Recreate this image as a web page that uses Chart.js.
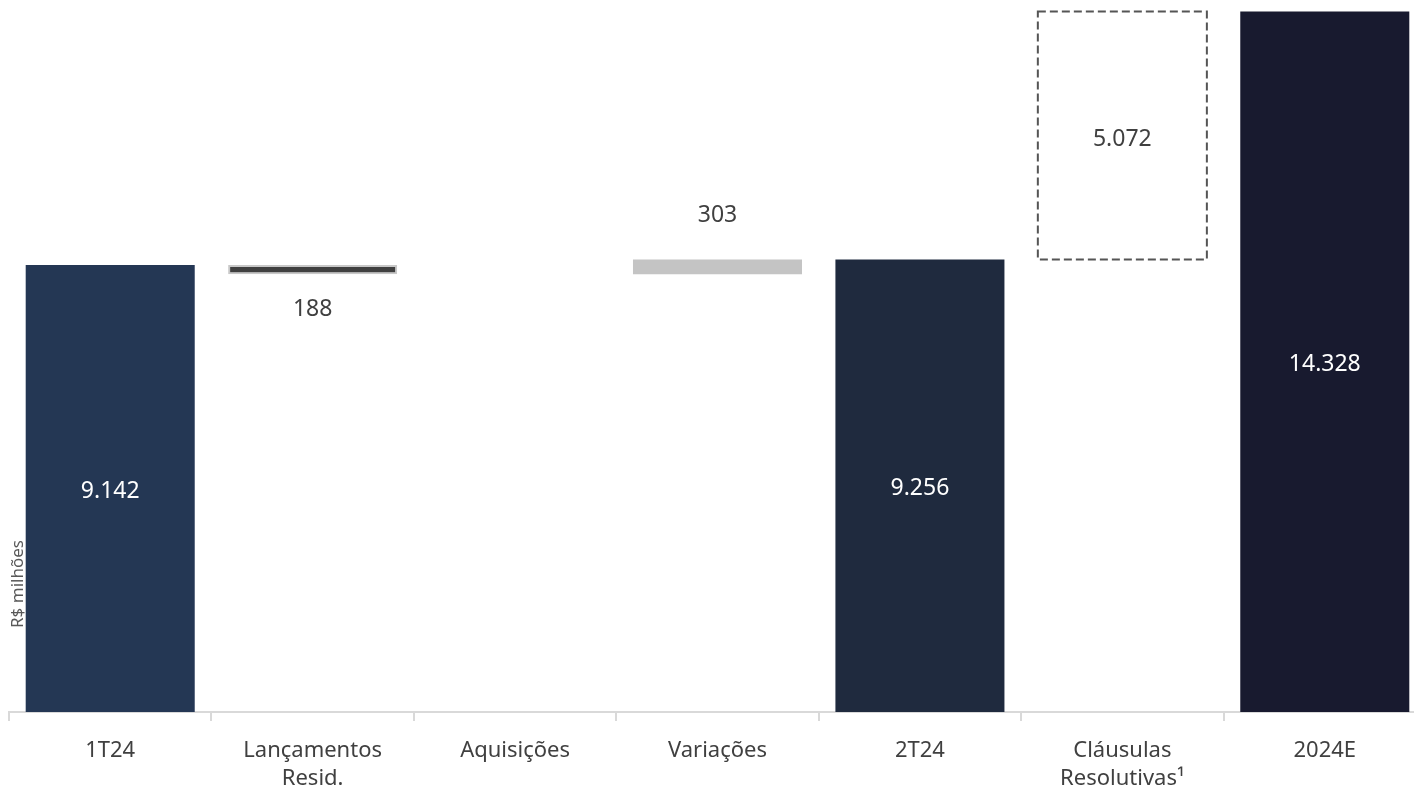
<!DOCTYPE html>
<html>
<head>
<meta charset="utf-8">
<script src="https://cdn.jsdelivr.net/npm/chart.js@4.4.1/dist/chart.umd.min.js"></script>
<style>
html,body{margin:0;padding:0;background:#fff;overflow:hidden}
#wrap{width:1430px;height:790px}
</style>
</head>
<body>
<div id="wrap"><canvas id="chart" width="1430" height="790"></canvas></div>
<script>

// categorias e valores (R$ milhões)
const categories=['1T24',['Lançamentos','Resid.'],'Aquisições','Variações','2T24',['Cláusulas','Resolutivas¹'],'2024E']
const values=[9142,-188,0,303,9256,5072,14328]
const isTotal=[true,false,false,false,true,false,true]
const barColors=['#243754','#404040','#404040','#c4c4c4','#1f2a3e','rgba(0,0,0,0)','#181a2f']

const fmt=v=>String(Math.abs(v)).replace(/\B(?=(\d{3})+(?!\d))/g,'.')

// monta as faixas flutuantes da cascata
let running=0
const ranges=values.map((v,i)=>{
if(isTotal[i]){running=v;return[0,v]}
const start=running
running+=v
return[start,running]
})

const FONT='"Noto Sans", sans-serif'

const labelsPlugin={
id:'valueLabels',
afterDatasetsDraw(chart){
const ctx=chart.ctx
const meta=chart.getDatasetMeta(0)
ctx.save()
ctx.textAlign='center'
ctx.textBaseline='middle'
ctx.font='23px '+FONT
meta.data.forEach((bar,i)=>{
const v=values[i]
if(v===0) return
const top=Math.min(bar.y,bar.base)
const bottom=Math.max(bar.y,bar.base)
if(isTotal[i]){
ctx.fillStyle='#ffffff'
ctx.fillText(fmt(v),bar.x,(top+bottom)/2+3)
}else if(i===5){
// caixa tracejada
ctx.setLineDash([8,4])
ctx.lineWidth=2
ctx.strokeStyle='#555555'
ctx.strokeRect(bar.x-bar.width/2,top,bar.width,bottom-top)
ctx.setLineDash([])
ctx.fillStyle='#404040'
ctx.fillText(fmt(v),bar.x,(top+bottom)/2+4)
}else if(v<0){
ctx.fillStyle='#404040'
ctx.fillText(fmt(v),bar.x,bottom+35)
}else{
ctx.fillStyle='#404040'
ctx.fillText(fmt(v),bar.x,top-44)
}
})
// titulo do eixo
ctx.translate(chart.chartArea.left+9,584)
ctx.rotate(-Math.PI/2)
ctx.font='17px '+FONT
ctx.fillStyle='#595959'
ctx.fillText('R$ milhões',0,0)
ctx.restore()
}
}

new Chart(document.getElementById('chart'),{
type:'bar',
data:{
labels:categories,
datasets:[{
data:ranges,
backgroundColor:barColors,
borderColor:['#243754','#c8c8c8','#404040','#c4c4c4','#1f2a3e','rgba(0,0,0,0)','#181a2f'],
borderWidth:[0,2,0,0,0,0,0],
borderSkipped:false,
categoryPercentage:1,
barPercentage:0.835
}]
},
options:{
responsive:false,
animation:false,
layout:{padding:{left:9,right:4,top:8,bottom:0}},
plugins:{legend:{display:false},tooltip:{enabled:false}},
scales:{
x:{
grid:{drawOnChartArea:false,drawTicks:true,tickLength:9,color:'#d9d9d9',lineWidth:2},
border:{color:'#d9d9d9',width:2},
ticks:{color:'#404040',font:{family:FONT,size:22,lineHeight:1.3},padding:15,maxRotation:0,autoSkip:false},
afterFit(scale){scale.height=78}
},
y:{display:false,min:0,max:14400}
}
},
plugins:[labelsPlugin]
})
</script>
</body>
</html>
